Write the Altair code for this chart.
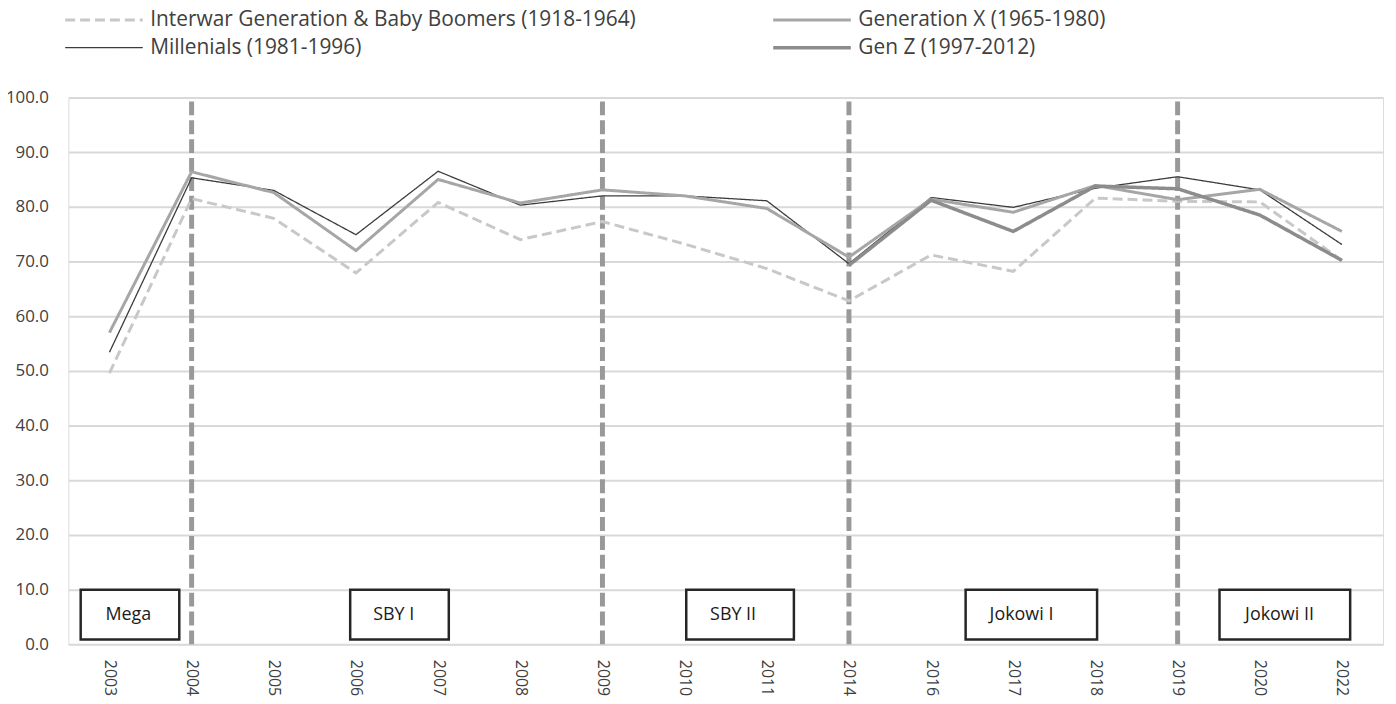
import altair as alt
import pandas as pd

years = ["2003", "2004", "2005", "2006", "2007", "2008", "2009", "2010",
         "2011", "2014", "2016", "2017", "2018", "2019", "2020", "2022"]

# order chosen so the 2-column legend reads like the reference
series_names = ["Interwar Generation & Baby Boomers (1918-1964)",
                "Millenials (1981-1996)",
                "Generation X (1965-1980)",
                "Gen Z (1997-2012)"]

interwar = [49.6, 81.5, 77.9, 67.9, 80.8, 74.0, 77.3, 73.2, 68.7, 62.8, 71.2, 68.2, 81.6, 81.0, 80.9, 70.2]
millenials = [53.4, 85.3, 83.0, 74.9, 86.5, 80.3, 82.0, 82.0, 81.1, 69.6, 81.7, 79.9, 83.4, 85.5, 83.1, 73.1]
genx = [57.0, 86.4, 82.6, 72.0, 85.0, 80.7, 83.1, 82.0, 79.7, 70.8, 81.4, 79.0, 83.9, 81.3, 83.2, 75.5]
genz = [None, None, None, None, None, None, None, None, None, 69.3, 81.2, 75.5, 83.8, 83.3, 78.5, 70.2]

# period boundaries (years where a new term starts)
boundary_years = ["2004", "2009", "2014", "2019"]

# presidential-term annotation boxes (in x-index units and y data units)
box_labels = ["Mega", "SBY I", "SBY II", "Jokowi I", "Jokowi II"]
box_start = [-0.35, 2.93, 7.02, 10.42, 13.51]
box_end = [0.85, 4.13, 8.33, 12.02, 15.10]
box_text_pos = [0.23, 3.46, 7.59, 11.10, 14.24]
box_bottom = 0.9
box_top = 10.0
box_text_y = 5.3

colors = ["#c8c8c8", "#3c3c3c", "#a6a6a6", "#8c8c8c"]
dashes = [[10, 5], [1, 0], [1, 0], [1, 0]]
widths = [3, 1.3, 3, 3.5]

rows = []
for name, vals in zip(series_names, [interwar, millenials, genx, genz]):
    for i, (yr, v) in enumerate(zip(years, vals)):
        if v is not None:
            rows.append({"idx": i, "year": yr, "series": name, "value": v})
df = pd.DataFrame(rows)

rules_df = pd.DataFrame({"idx": [years.index(y) for y in boundary_years]})
boxes_df = pd.DataFrame({"label": box_labels, "x0": box_start, "x1": box_end,
                         "tx": box_text_pos})

label_expr = "[" + ",".join("'%s'" % y for y in years) + "][datum.value]"

xscale = alt.Scale(domain=[-0.5, len(years) - 0.5], nice=False, zero=False)
yscale = alt.Scale(domain=[0, 100], nice=False)

x_axis = alt.Axis(values=list(range(len(years))), labelExpr=label_expr, title=None,
                  grid=False, domain=False, ticks=False, labelAngle=90,
                  labelFontSize=16, labelPadding=15, labelColor="#404040",
                  labelFont="Open Sans")
y_axis = alt.Axis(values=list(range(0, 101, 10)), format=".1f", title=None,
                  grid=True, gridColor="#d9d9d9", gridWidth=2, domain=False,
                  ticks=False, labelFontSize=17, labelPadding=20,
                  labelColor="#404040", labelFont="Open Sans")

legend = alt.Legend(title=None, orient="none", legendX=-8.7, legendY=-88.5,
                    columns=2, columnPadding=130, rowPadding=6,
                    symbolType="M-1,0H14.6", symbolSize=100, labelOffset=70,
                    labelFontSize=21, labelFont="Open Sans", labelColor="#404040",
                    labelLimit=800, padding=0)

rules = alt.Chart(rules_df).mark_rule(color="#999999", strokeWidth=5,
                                      strokeDash=[14, 5]).encode(
    x=alt.X("idx:Q", scale=xscale, axis=x_axis),
    y=alt.datum(0, scale=yscale),
    y2=alt.datum(100),
)

lines = alt.Chart(df).mark_line().encode(
    x=alt.X("idx:Q", scale=xscale, axis=x_axis),
    y=alt.Y("value:Q", scale=yscale, axis=y_axis),
    color=alt.Color("series:N", scale=alt.Scale(domain=series_names, range=colors),
                    legend=legend),
    strokeDash=alt.StrokeDash("series:N", scale=alt.Scale(domain=series_names, range=dashes),
                              legend=legend),
    strokeWidth=alt.StrokeWidth("series:N",
                                scale=alt.Scale(type="ordinal", domain=series_names, range=widths),
                                legend=legend),
)

boxes = alt.Chart(boxes_df).mark_rect(fill="white", stroke="#262626",
                                      strokeWidth=2.5).encode(
    x=alt.X("x0:Q", scale=xscale, axis=x_axis),
    x2="x1:Q",
    y=alt.datum(box_bottom, scale=yscale),
    y2=alt.datum(box_top),
)

box_text = alt.Chart(boxes_df).mark_text(fontSize=18, font="Open Sans",
                                         color="#1a1a1a", align="center",
                                         baseline="middle").encode(
    x=alt.X("tx:Q", scale=xscale, axis=x_axis),
    y=alt.datum(box_text_y, scale=yscale),
    text="label:N",
)

chart = alt.layer(rules, lines, boxes, box_text).properties(
    width=1322, height=550,
    autosize=alt.AutoSizeParams(type="none"),
    padding={"left": 60.7, "top": 88, "right": 5, "bottom": 50},
).configure_view(stroke=None).configure(background="white")

chart.save("out.html", embed_options={"renderer": "svg", "actions": False})
